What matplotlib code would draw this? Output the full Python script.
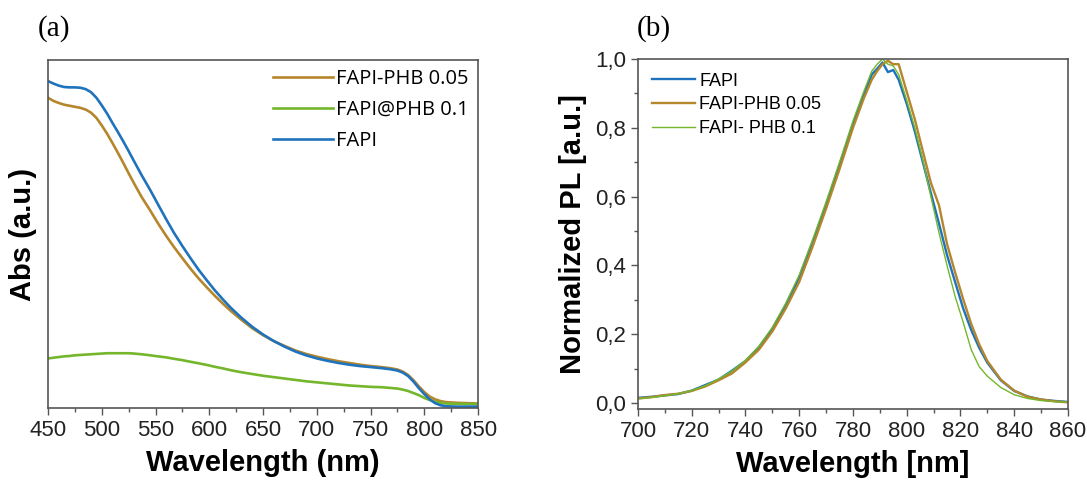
import matplotlib
matplotlib.use('Agg')
import matplotlib.pyplot as plt
from matplotlib.ticker import MultipleLocator, FuncFormatter

# renkler
c_blue = '#1f73bd'
c_brown = '#b5862c'
c_green = '#74b62c'

# (a) absorbans verileri
abs_wl = [450, 455, 460, 465, 470, 475, 480, 485, 490, 495, 500, 505, 510, 515, 520, 525,
          530, 537, 545, 552, 560, 567, 575, 583, 590, 598, 605, 613, 620, 630, 640, 650,
          660, 670, 680, 690, 700, 710, 720, 730, 740, 750, 760, 768, 775, 780, 785, 790,
          795, 800, 805, 810, 815, 820, 830, 850]
abs_fapi = [0.939, 0.932, 0.926, 0.922, 0.921, 0.921, 0.920, 0.916, 0.907, 0.891, 0.869,
            0.845, 0.818, 0.792, 0.765, 0.737, 0.708, 0.668, 0.625, 0.585, 0.540, 0.502,
            0.463, 0.426, 0.395, 0.363, 0.336, 0.308, 0.285, 0.256, 0.230, 0.208, 0.189,
            0.173, 0.159, 0.148, 0.139, 0.132, 0.126, 0.121, 0.117, 0.114, 0.111, 0.108,
            0.104, 0.098, 0.088, 0.072, 0.053, 0.036, 0.021, 0.010, 0.004, 0.001, 0.000,
            0.000]
abs_phb005 = [0.891, 0.882, 0.876, 0.871, 0.868, 0.865, 0.862, 0.857, 0.848, 0.833, 0.811,
              0.787, 0.760, 0.732, 0.703, 0.673, 0.644, 0.605, 0.566, 0.530, 0.492, 0.461,
              0.428, 0.396, 0.370, 0.343, 0.320, 0.296, 0.276, 0.250, 0.226, 0.206, 0.189,
              0.175, 0.162, 0.152, 0.144, 0.137, 0.131, 0.126, 0.121, 0.117, 0.114, 0.111,
              0.107, 0.101, 0.091, 0.076, 0.058, 0.042, 0.029, 0.021, 0.016, 0.013, 0.011,
              0.009]
abs_phb01 = [0.139, 0.141, 0.143, 0.145, 0.146, 0.148, 0.149, 0.150, 0.151, 0.152, 0.153,
             0.154, 0.154, 0.154, 0.154, 0.154, 0.153, 0.151, 0.148, 0.145, 0.142, 0.138,
             0.134, 0.129, 0.125, 0.120, 0.115, 0.110, 0.105, 0.099, 0.094, 0.089, 0.085,
             0.081, 0.077, 0.073, 0.070, 0.067, 0.064, 0.061, 0.059, 0.057, 0.056, 0.054,
             0.052, 0.049, 0.045, 0.039, 0.033, 0.025, 0.019, 0.014, 0.011, 0.009, 0.008,
             0.007]

# (b) PL verileri
pl_wl = [700, 705, 710, 715, 720, 725, 730, 735, 740, 745, 750, 755, 760, 765, 770, 775,
         780, 784, 787, 789, 791, 793, 795, 797, 800, 803, 806, 809, 812, 815, 818, 821,
         824, 827, 830, 835, 840, 845, 850, 855, 860]
pl_fapi = [0.015, 0.018, 0.022, 0.026, 0.036, 0.052, 0.068, 0.094, 0.122, 0.162, 0.215,
           0.285, 0.365, 0.468, 0.575, 0.692, 0.810, 0.895, 0.955, 0.972, 0.990, 0.962,
           0.968, 0.940, 0.870, 0.790, 0.700, 0.610, 0.522, 0.430, 0.352, 0.275, 0.212,
           0.160, 0.117, 0.066, 0.035, 0.019, 0.010, 0.006, 0.003]
pl_phb005 = [0.013, 0.017, 0.023, 0.027, 0.035, 0.048, 0.066, 0.086, 0.118, 0.155, 0.208,
             0.275, 0.352, 0.455, 0.565, 0.680, 0.800, 0.885, 0.940, 0.965, 0.985, 0.995,
             0.985, 0.985, 0.905, 0.825, 0.732, 0.640, 0.575, 0.462, 0.380, 0.302, 0.230,
             0.170, 0.122, 0.068, 0.036, 0.018, 0.010, 0.005, 0.002]
pl_phb01 = [0.012, 0.016, 0.021, 0.027, 0.036, 0.050, 0.070, 0.093, 0.124, 0.165, 0.220,
            0.290, 0.372, 0.475, 0.585, 0.700, 0.820, 0.905, 0.965, 0.985, 1.000, 0.985,
            0.980, 0.955, 0.880, 0.800, 0.705, 0.600, 0.495, 0.400, 0.310, 0.235, 0.155,
            0.105, 0.078, 0.045, 0.024, 0.013, 0.007, 0.004, 0.003]

plt.rcParams['font.family'] = ['Liberation Sans', 'DejaVu Sans']
spine_c = '#555555'
text_c = '#222222'

fig = plt.figure(figsize=(10.87, 4.83), dpi=100)
ax1 = fig.add_axes([0.0442, 0.1553, 0.3956, 0.7205])
ax2 = fig.add_axes([0.5869, 0.1532, 0.3956, 0.7246])

# (a) paneli
ax1.plot(abs_wl, abs_phb005, color=c_brown, lw=1.9, label='FAPI-PHB 0.05')
ax1.plot(abs_wl, abs_phb01, color=c_green, lw=1.9, label='FAPI@PHB 0.1')
ax1.plot(abs_wl, abs_fapi, color=c_blue, lw=1.9, label='FAPI')
ax1.set_xlim(450, 850)
ax1.set_ylim(-0.004, 1.0)
ax1.set_yticks([])
ax1.xaxis.set_major_locator(MultipleLocator(50))
ax1.xaxis.set_minor_locator(MultipleLocator(25))
ax1.set_xlabel('Wavelength (nm)', fontsize=21, fontweight='bold', labelpad=6)
ax1.set_ylabel('Abs (a.u.)', fontsize=21, fontweight='bold', labelpad=8)
ax1.legend(loc='upper right', frameon=False, handlelength=3.0, handletextpad=0.15,
           labelspacing=0.55, borderaxespad=0.05,
           prop={'family': 'Open Sans', 'size': 14.5})

# (b) paneli
ax2.plot(pl_wl, pl_fapi, color=c_blue, lw=1.7, label='FAPI')
ax2.plot(pl_wl, pl_phb005, color=c_brown, lw=1.7, label='FAPI-PHB 0.05')
ax2.plot(pl_wl, pl_phb01, color=c_green, lw=1.0, label='FAPI- PHB 0.1')
ax2.set_xlim(700, 860)
ax2.set_ylim(-0.0175, 1.0)
ax2.xaxis.set_major_locator(MultipleLocator(20))
ax2.xaxis.set_minor_locator(MultipleLocator(10))
ax2.yaxis.set_major_locator(MultipleLocator(0.2))
ax2.yaxis.set_minor_locator(MultipleLocator(0.1))
ax2.yaxis.set_major_formatter(FuncFormatter(lambda v, p: f'{v:.1f}'.replace('.', ',')))
ax2.set_xlabel('Wavelength [nm]', fontsize=21, fontweight='bold', labelpad=6)
ax2.set_ylabel('Normalized PL [a.u.]', fontsize=21, fontweight='bold', labelpad=6)
ax2.legend(loc='upper left', frameon=False, handlelength=2.4, handletextpad=0.25,
           labelspacing=0.38, borderaxespad=0.35, fontsize=13)

for ax in (ax1, ax2):
    for s in ax.spines.values():
        s.set_color(spine_c)
        s.set_linewidth(1.2)
    ax.tick_params(which='both', direction='out', colors=spine_c, labelcolor=text_c,
                   labelsize=16, width=1.0)
    ax.tick_params(which='major', length=5)
    ax.tick_params(which='minor', length=3)

fig.text(0.035, 0.94, '(a)', family='Liberation Serif', fontsize=21, va='center', ha='left')
fig.text(0.586, 0.94, '(b)', family='Liberation Serif', fontsize=21, va='center', ha='left')

fig.savefig('out.png', dpi=100)
